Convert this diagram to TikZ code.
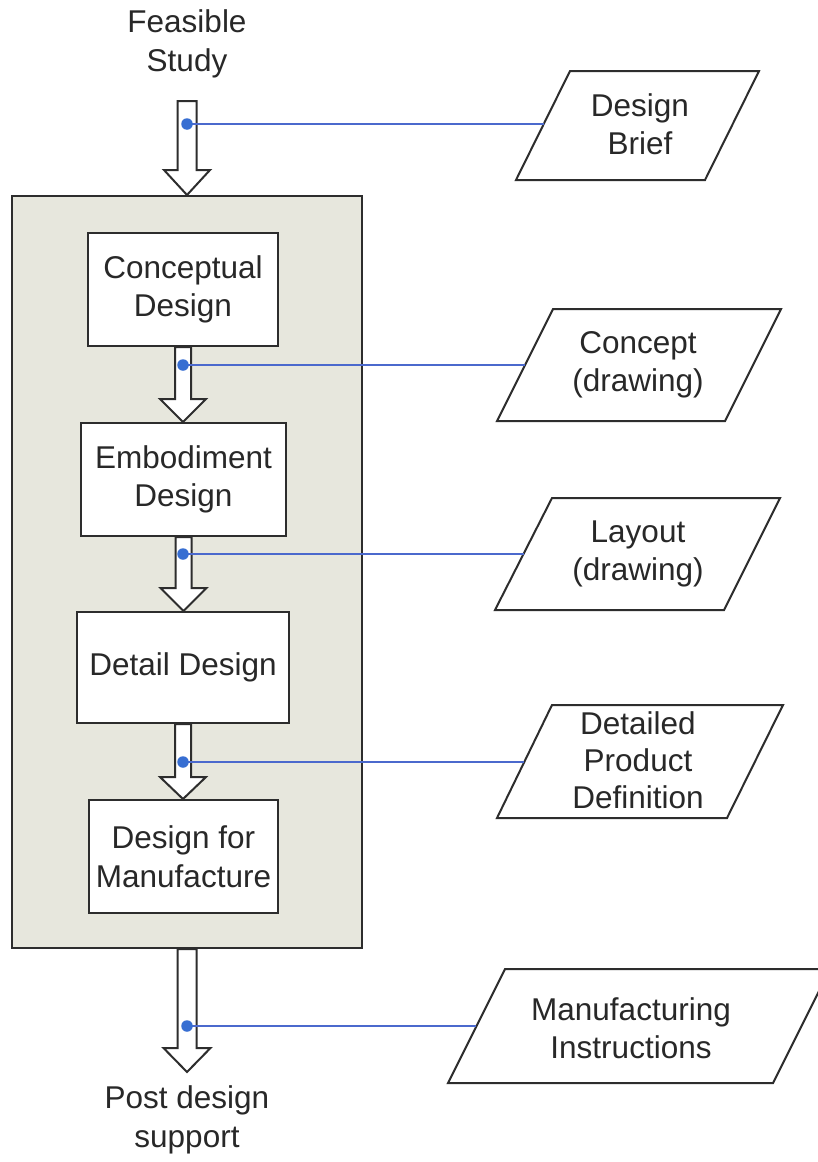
\documentclass[tikz,border=0pt]{standalone}
\usepackage{fontspec}
\setmainfont{Liberation Sans}
\usetikzlibrary{calc}
\definecolor{panel}{RGB}{231,231,221}
\definecolor{edgec}{RGB}{45,45,45}
\definecolor{linkc}{RGB}{75,105,205}
\definecolor{dotc}{RGB}{55,110,210}
\definecolor{txt}{RGB}{40,40,40}
\newcommand\blockarrow[5]{%
  \draw[barrow] let \p1=(#1), \p2=(#2) in
    (\x1-#3pt,\y1) -- (\x1-#3pt,\y2+#5pt) -- (\x1-#4pt,\y2+#5pt) -- (\x1,\y2)
    -- (\x1+#4pt,\y2+#5pt) -- (\x1+#3pt,\y2+#5pt) -- (\x1+#3pt,\y1) -- cycle;}
\begin{document}
\begin{tikzpicture}[x=1pt,y=-1pt,
  every node/.style={font=\fontsize{31.5}{38.5}\selectfont, text=txt, align=center, inner sep=0pt},
  stagebox/.style={draw=edgec, line width=2pt, fill=white},
  panelbox/.style={draw=edgec, line width=2pt, fill=panel},
  barrow/.style={draw=edgec, line width=2pt, fill=white, line join=miter},
  parabox/.style={draw=edgec, line width=2pt, fill=white, line join=miter},
  linkline/.style={draw=linkc, line width=1.4pt},
  linkdot/.style={circle, fill=dotc, minimum size=11.5pt}]
\clip (0,0) rectangle (818,1162);
\fill[white] (0,0) rectangle (818,1162);

% panel
\node[panelbox, minimum width=350pt, minimum height=752pt] (outer) at (187,572) {};

% stages
\node[stagebox, minimum width=190pt, minimum height=113pt] (cd) at (183,289.5) {Conceptual\\Design};
\node[stagebox, minimum width=205pt, minimum height=113pt] (ed) at (183.5,479.5) {Embodiment\\Design};
\node[stagebox, minimum width=212pt, minimum height=111pt] (dd) at (183,667.5) {Detail Design};
\node[stagebox, minimum width=189pt, minimum height=113pt] (dfm) at (183.5,856.5) {Design for\\Manufacture};

% terminal texts
\node (fs) at (187,44) {Feasible\\Study};
\node (pd) at (187,1120) {Post design\\support};
\coordinate (fsarrow) at (187,101);
\coordinate (pdtip) at (187,1072);

% outputs (parallelograms)
\draw[parabox] (570,71) -- (759,71) -- (705,180) -- (516,180) -- cycle;
\node (db) at (640,124) {Design\\Brief};
\coordinate (db-in) at (543.7,124);

\draw[parabox] (553,309) -- (781,309) -- (725,421) -- (497,421) -- cycle;
\node (cp) at (638,365) {Concept\\(drawing)};
\coordinate (cp-in) at (525,365);

\draw[parabox] (552,498) -- (780,498) -- (724,610) -- (495,610) -- cycle;
\node (ly) at (638,554) {Layout\\(drawing)};
\coordinate (ly-in) at (523.5,554);

\draw[parabox] (552,705) -- (783,705) -- (727,818) -- (497,818) -- cycle;
\node[font=\fontsize{31.5}{37}\selectfont] (dp) at (638,760) {Detailed\\Product\\Definition};
\coordinate (dp-in) at (524.3,762);

\draw[parabox] (505,969) -- (830,969) -- (773,1083) -- (448,1083) -- cycle;
\node (mi) at (631,1028) {Manufacturing\\Instructions};
\coordinate (mi-in) at (476,1027);

% block arrows
\blockarrow{fsarrow}{outer.north}{9.5}{23}{25}
\blockarrow{cd.south}{ed.north}{8}{23}{23}
\blockarrow{ed.south}{dd.north}{8}{23}{23}
\blockarrow{dd.south}{dfm.north}{8}{23}{22}
\blockarrow{outer.south}{pdtip}{9.5}{23.5}{24}

% links
\coordinate (d1) at (187,124);
\coordinate (d2) at (183,365);
\coordinate (d3) at (183,554);
\coordinate (d4) at (183,762);
\coordinate (d5) at (187,1026);
\draw[linkline] (d1) -- (d1 -| db-in);
\draw[linkline] (d2) -- (d2 -| cp-in);
\draw[linkline] (d3) -- (d3 -| ly-in);
\draw[linkline] (d4) -- (d4 -| dp-in);
\draw[linkline] (d5) -- (d5 -| mi-in);
\node[linkdot] (k1) at (d1) {};
\node[linkdot] (k2) at (d2) {};
\node[linkdot] (k3) at (d3) {};
\node[linkdot] (k4) at (d4) {};
\node[linkdot] (k5) at (d5) {};
\end{tikzpicture}
\end{document}
